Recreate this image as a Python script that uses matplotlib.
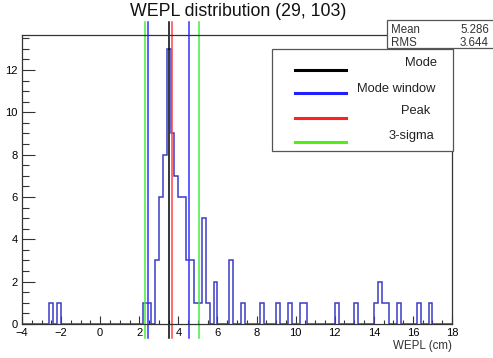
import numpy as np
import matplotlib
matplotlib.use('Agg')
import matplotlib.pyplot as plt
from matplotlib.patches import Rectangle
from matplotlib.ticker import MultipleLocator

plt.rcParams['font.family'] = ['Liberation Sans', 'DejaVu Sans']

# histogram: left edge of each non-empty 0.2 cm bin and its count
bin_left = [-2.6, -2.2, 2.2, 2.4, 2.8, 3.0, 3.2, 3.4, 3.6, 3.8, 4.0, 4.2, 4.4, 4.6,
            4.8, 5.0, 5.2, 5.4, 5.8, 6.6, 7.2, 8.2, 9.0, 9.6, 10.2, 10.4, 12.0,
            13.0, 14.0, 14.2, 14.4, 14.6, 15.2, 16.2, 16.8]
bin_count = [1, 1, 1, 1, 3, 6, 8, 13, 9, 7, 6, 6, 3, 3,
             1, 1, 5, 1, 2, 3, 1, 1, 1, 1, 1, 1, 1,
             1, 1, 2, 1, 1, 1, 1, 1]
bin_width = 0.2

# marker lines
mode_x = 3.52
peak_x = 3.66
window_x = [2.47, 4.53]
sigma_x = [2.27, 5.05]

stat_labels = ['Mean', 'RMS']
stat_values = ['5.286', '3.644']
legend_labels = ['Mode', 'Mode window', 'Peak', '3-sigma']

W, H = 493, 358
fig = plt.figure(figsize=(W / 100, H / 100), dpi=100)
ax = fig.add_axes([22 / W, 34 / H, 430 / W, 289 / H])

edges = np.arange(-4, 18 + bin_width / 2, bin_width)
centers = np.array(bin_left) + bin_width / 2
ax.hist(centers, bins=edges, weights=bin_count, histtype='step',
        color='#3c3cc8', lw=1.1)

line_lo, line_hi = -0.66, 14.28
for x in sigma_x:
    ax.plot([x, x], [line_lo, line_hi], color='#44ee44', lw=1.1, clip_on=False)
for x in window_x:
    ax.plot([x, x], [line_lo, line_hi], color='#3333ff', lw=1.1, clip_on=False)
ax.plot([mode_x, mode_x], [line_lo, line_hi], color='black', lw=1.1, clip_on=False)
ax.plot([peak_x, peak_x], [line_lo, line_hi], color='#ff4444', lw=1.1, clip_on=False)

ax.set_xlim(-4, 18)
ax.set_ylim(0, 13.65)
ax.xaxis.set_major_locator(MultipleLocator(2))
ax.xaxis.set_minor_locator(MultipleLocator(0.5))
ax.yaxis.set_major_locator(MultipleLocator(2))
ax.yaxis.set_minor_locator(MultipleLocator(0.5))
ax.tick_params(axis='x', which='major', direction='in', length=6, width=0.8,
               color='#333333', labelsize=8, pad=3, top=False)
ax.tick_params(axis='x', which='minor', direction='in', length=3, width=0.8,
               color='#333333', top=False)
ax.tick_params(axis='y', which='major', direction='in', length=9.5, width=0.8,
               color='#333333', labelsize=8, pad=3, right=False)
ax.tick_params(axis='y', which='minor', direction='in', length=5, width=0.8,
               color='#333333', right=False)
for s in ax.spines.values():
    s.set_color('#333333')
    s.set_linewidth(0.9)
ax.set_xlabel('WEPL (cm)', fontsize=8.3, color='#333333')
ax.xaxis.set_label_coords(1.0, -0.055)
ax.xaxis.label.set_horizontalalignment('right')

fig.text(238 / W, 1 - 12 / H, 'WEPL distribution (29, 103)', fontsize=12.8,
         ha='center', va='center', color='#111111')

# stat box
fig.patches.append(Rectangle((387 / W, 1 - 48 / H), 110 / W, 28 / H,
                             transform=fig.transFigure, fill=True, fc='white',
                             ec='#555555', lw=0.9, zorder=5))
for i, (lab, val) in enumerate(zip(stat_labels, stat_values)):
    yy = 1 - (30 + 12.5 * i) / H
    fig.text(391 / W, yy, lab, fontsize=8.3, ha='left', va='center', color='#333333', zorder=6)
    fig.text(489 / W, yy, val, fontsize=8.3, ha='right', va='center', color='#333333', zorder=6)

# legend box
fig.patches.append(Rectangle((272 / W, 1 - 151 / H), 181 / W, 102 / H,
                             transform=fig.transFigure, fill=True, fc='white',
                             ec='#555555', lw=0.9, zorder=5))
leg_colors = ['black', '#2020ff', '#ff2020', '#55ee11']
line_y = [70, 93, 118, 142]
text_y = [63, 89, 111, 136]
text_right = [437, 435, 430, 434]
for lab, c, ly, ty, tr in zip(legend_labels, leg_colors, line_y, text_y, text_right):
    fig.add_artist(plt.Line2D([295 / W, 346 / W], [1 - ly / H, 1 - ly / H],
                              transform=fig.transFigure, color=c, lw=2.2, zorder=6))
    fig.text(tr / W, 1 - ty / H, lab, fontsize=9.3, ha='right', va='center',
             color='#222222', zorder=6)

fig.savefig('out.png', dpi=100)
